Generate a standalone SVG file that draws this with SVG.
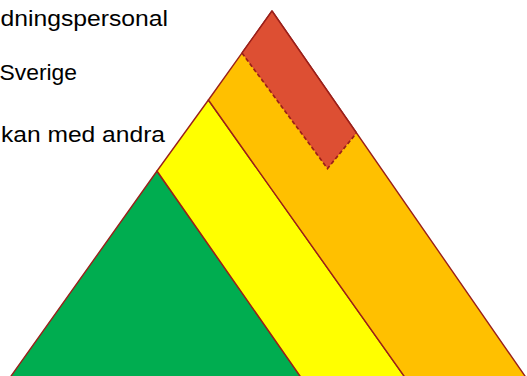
<svg xmlns="http://www.w3.org/2000/svg" width="527" height="376" viewBox="0 0 527 376">
  <style>
    .lbl { font-family: "Liberation Sans", Arial, sans-serif; font-size: 22.5px; fill: #000000; }
    .band { stroke: #9A1F1A; stroke-width: 1.4; stroke-linejoin: round; }
    .dash { fill: none; stroke: #9A1F1A; stroke-width: 1.7; stroke-dasharray: 4 2.5; }
  </style>
  <rect width="527" height="376" fill="#ffffff"/>
  <g id="labels">
    <text class="lbl" x="0.5" y="25.5" textLength="167.5" lengthAdjust="spacingAndGlyphs">dningspersonal</text>
    <text class="lbl" x="-0.5" y="80" textLength="77.5" lengthAdjust="spacingAndGlyphs">Sverige</text>
    <text class="lbl" x="1" y="141.5" textLength="164" lengthAdjust="spacingAndGlyphs">kan med andra</text>
  </g>
  <g id="band-green">
    <polygon class="band" fill="#00AD50" points="157,171 316.8,400 -6,400"/>
  </g>
  <g id="band-yellow">
    <polygon class="band" fill="#FFFF00" points="208.4,100 421,400 316.8,400 157,171"/>
  </g>
  <g id="band-orange">
    <polygon class="band" fill="#FFC000" points="272,11 541.6,400 421,400 208.4,100"/>
  </g>
  <g id="band-red">
    <polygon fill="#DD4F33" stroke="none" points="272,11 242,53 327.5,168.5 356.5,133"/>
    <polyline class="band" fill="none" points="242,53 272,11 356.5,133"/>
    <polyline class="dash" points="242,53 327.5,168.5 356.5,133"/>
  </g>
</svg>
